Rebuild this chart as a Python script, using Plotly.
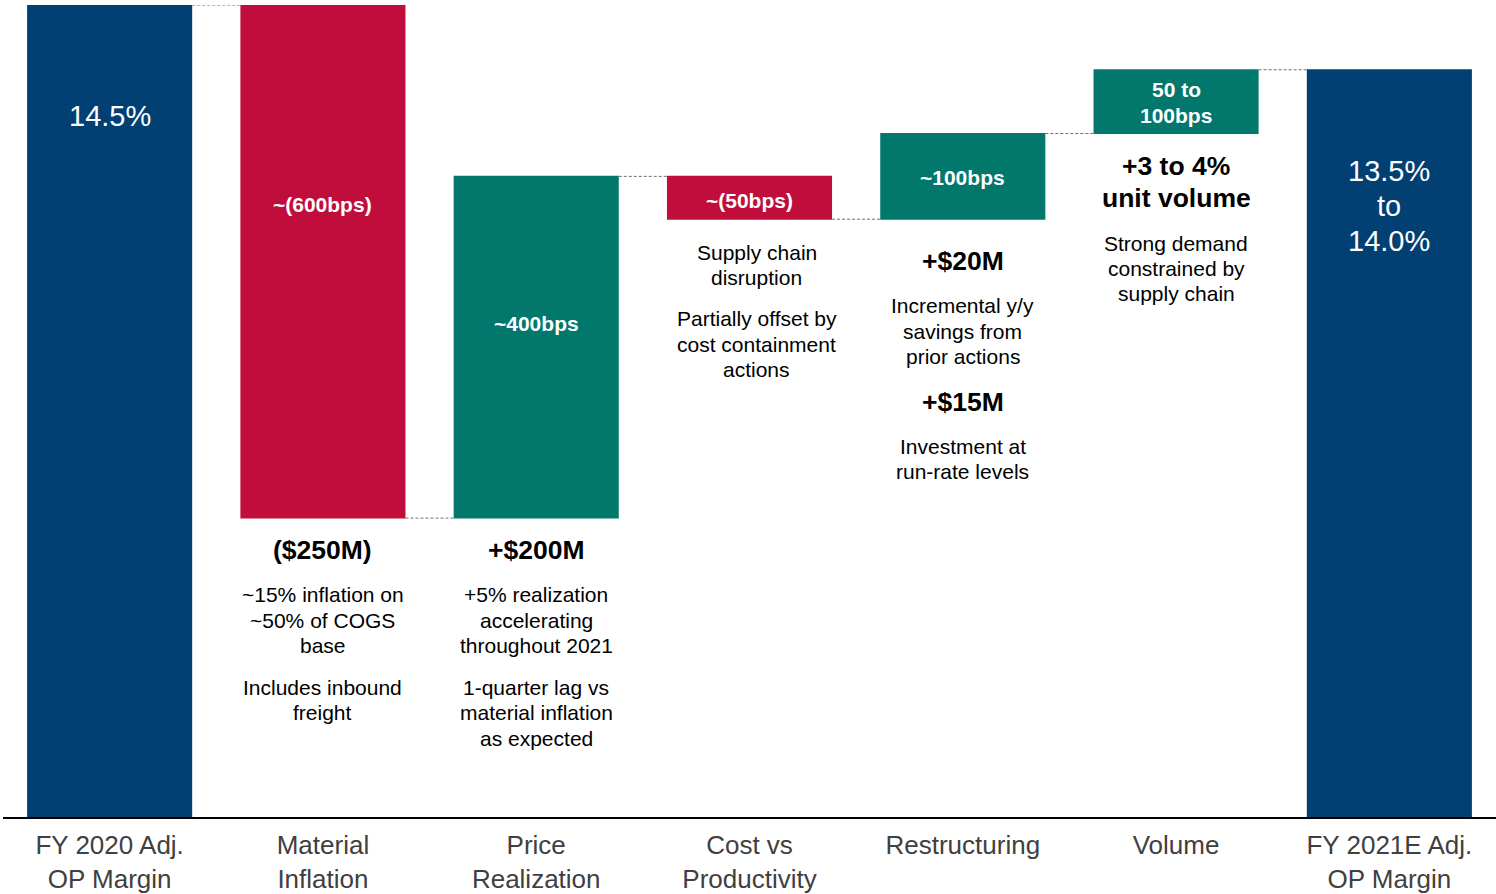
"""
Adj. OP margin bridge, FY 2020 -> FY 2021E
Waterfall chart with commentary under each step
"""

import plotly.graph_objects as go

# categories (axis labels)
categories = [
    'FY 2020 Adj.<br>OP Margin',
    'Material<br>Inflation',
    'Price<br>Realization',
    'Cost vs<br>Productivity',
    'Restructuring',
    'Volume',
    'FY 2021E Adj.<br>OP Margin',
]

# bar heights as drawn (illustrative, not to scale)
measures = ['absolute', 'relative', 'relative', 'relative', 'relative', 'relative', 'total']
steps = [815, -515, 343, -43, 86, 64, 0]

# labels printed inside the bars
bar_labels = [
    '14.5%',
    '~(600bps)',
    '~400bps',
    '~(50bps)',
    '~100bps',
    '50 to<br>100bps',
    '13.5%<br>to<br>14.0%',
]

NAVY = '#023F73'
RED = '#C00D3C'
TEAL = '#02786D'
FONT = 'Liberation Sans, Arial, sans-serif'

fig = go.Figure(go.Waterfall(
    x=categories,
    y=steps,
    measure=measures,
    textinfo='none',
    increasing=dict(marker=dict(color=TEAL, line=dict(width=0))),
    decreasing=dict(marker=dict(color=RED, line=dict(width=0))),
    totals=dict(marker=dict(color=NAVY, line=dict(width=0))),
    connector=dict(mode='between', line=dict(color='#6F6F6F', width=1, dash='3px,2px')),
    hoverinfo='x',
))


def note(i, y, text, size=21, bold=False, color='black', spacing=25.5, dx=0):
    # one annotation per line so the line spacing can follow the original
    for k, line in enumerate(text.split('<br>')):
        if bold:
            line = '<b>' + line + '</b>'
        fig.add_annotation(
            x=categories[i], y=820 - (y + k * spacing), xref='x', yref='y',
            text=line, showarrow=False, xanchor='center', yanchor='middle',
            xshift=dx, font=dict(family=FONT, size=size, color=color),
        )


# in-bar labels
note(0, 116, bar_labels[0], size=29, color='white')
note(1, 205, bar_labels[1], bold=True, color='white')
note(2, 325, bar_labels[2], bold=True, color='white')
note(3, 201, bar_labels[3], bold=True, color='white')
note(4, 178, bar_labels[4], bold=True, color='white')
note(5, 90, bar_labels[5], bold=True, color='white', spacing=26)
note(6, 172, bar_labels[6], size=29, color='white', spacing=35)

# commentary
note(1, 552, '($250M)', size=26.5, bold=True)
note(1, 597, '~15% inflation on<br>~50% of COGS<br>base')
note(1, 690, 'Includes inbound<br>freight')

note(2, 552, '+$200M', size=26.5, bold=True)
note(2, 597, '+5% realization<br>accelerating<br>throughout 2021')
note(2, 690, '1-quarter lag vs<br>material inflation<br>as expected')

note(3, 253, 'Supply chain<br>disruption', dx=7)
note(3, 320, 'Partially offset by<br>cost containment<br>actions', dx=7)

note(4, 262, '+$20M', size=26.5, bold=True)
note(4, 307, 'Incremental y/y<br>savings from<br>prior actions')
note(4, 403, '+$15M', size=26.5, bold=True)
note(4, 448, 'Investment at<br>run-rate levels')

note(5, 167, '+3 to 4%<br>unit volume', size=26.5, bold=True, spacing=32)
note(5, 244, 'Strong demand<br>constrained by<br>supply chain')

fig.update_layout(
    width=1496,
    height=894,
    template='plotly_white',
    plot_bgcolor='white',
    paper_bgcolor='white',
    showlegend=False,
    waterfallgap=0.226,
    margin=dict(l=3, r=0, t=5, b=74),
    font=dict(family=FONT),
    xaxis=dict(
        showline=True, linecolor='black', linewidth=2,
        showgrid=False, ticks='', ticklabelstandoff=4,
        tickfont=dict(family=FONT, size=26, color='#404040'),
    ),
    yaxis=dict(
        range=[0, 815], visible=False, showgrid=False, zeroline=False,
    ),
)

# drop the default body margin so the 1496x894 figure fills the window
fig.write_html(
    'out.html',
    config={'displayModeBar': False},
    post_script="document.body.style.margin = '0';",
)
